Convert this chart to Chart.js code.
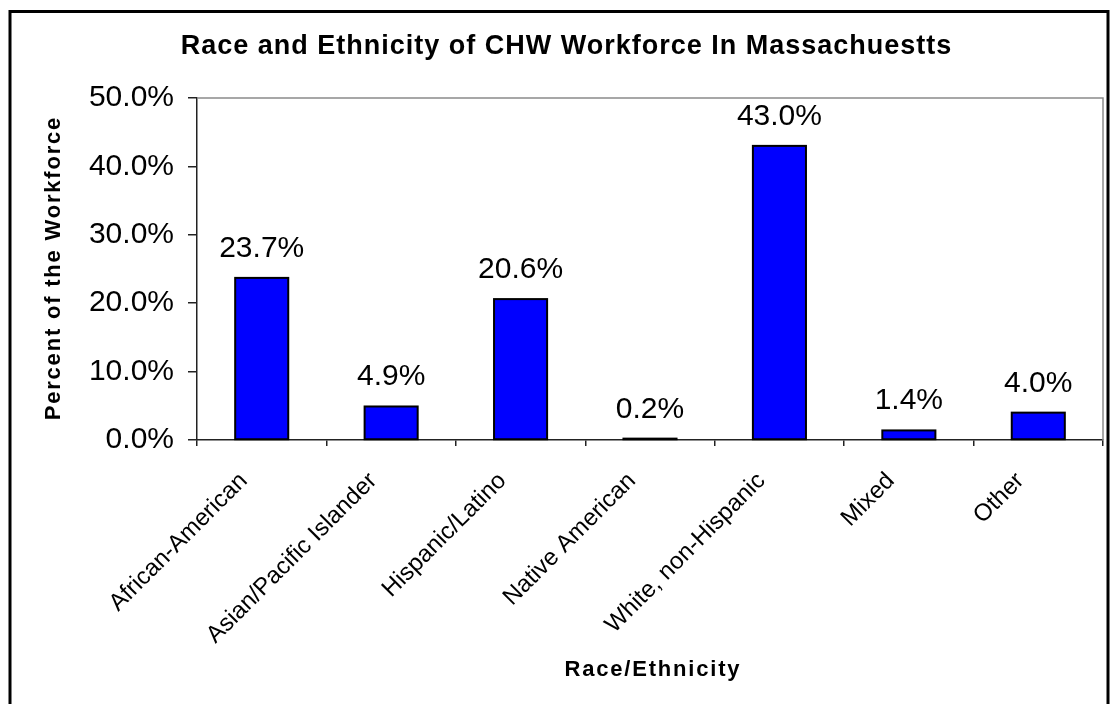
<!DOCTYPE html>
<html>
<head>
<meta charset="utf-8">
<title>Race and Ethnicity of CHW Workforce</title>
<script src="https://cdn.jsdelivr.net/npm/chart.js@4/dist/chart.umd.min.js"></script>
<style>
  html, body { margin: 0; padding: 0; background: #fff; }
  #wrap { width: 1111px; height: 704px; }
</style>
</head>
<body>
<div id="wrap"><canvas id="chart" width="1111" height="704"></canvas></div>
<script>
// ---------- Data ----------
const categories = [
  "African-American",
  "Asian/Pacific Islander",
  "Hispanic/Latino",
  "Native American",
  "White, non-Hispanic",
  "Mixed",
  "Other",
];
const percents = [23.7, 4.9, 20.6, 0.2, 43.0, 1.4, 4.0];
const yMin = 0;
const yMax = 50;
const yStep = 10;

const chartTitle = "Race and Ethnicity of CHW Workforce In Massachuestts";
const xTitle = "Race/Ethnicity";
const yTitle = "Percent of the Workforce";

// ---------- Helpers ----------
const FONT = "'Liberation Sans', Arial, Helvetica, sans-serif";
const pct = (v) => Number(v).toFixed(1) + "%";

function spacedText(ctx, text, x, y, font, spacing, rot = 0) {
  ctx.save();
  ctx.translate(x, y);
  ctx.rotate(rot);
  ctx.font = font;
  ctx.fillStyle = "#000";
  ctx.textAlign = "center";
  ctx.textBaseline = "middle";
  ctx.letterSpacing = spacing + "px";
  ctx.fillText(text, spacing / 2, 0);
  ctx.restore();
}

// ---------- Plugins ----------
// white page + heavy frame round the whole chart
const framePlugin = {
  id: "frame",
  beforeDraw(chart) {
    const { ctx, width, height } = chart;
    ctx.save();
    ctx.fillStyle = "#fff";
    ctx.fillRect(0, 0, width, height);
    ctx.strokeStyle = "#000";
    ctx.lineWidth = 3;
    ctx.strokeRect(10, 11.5, 1098, height + 40);
    ctx.restore();
  },
};

// grey top/right edges of the plot area
const plotEdgePlugin = {
  id: "plotEdge",
  beforeDatasetsDraw(chart) {
    const { ctx, chartArea: a } = chart;
    ctx.save();
    ctx.strokeStyle = "#8a8a8a";
    ctx.lineWidth = 1.5;
    ctx.beginPath();
    ctx.moveTo(a.left, a.top);
    ctx.lineTo(a.right, a.top);
    ctx.lineTo(a.right, a.bottom);
    ctx.stroke();
    ctx.restore();
  },
};

// black outline centred on each bar edge (keeps tiny bars visible),
// then the value label above it
const barDecorPlugin = {
  id: "barDecor",
  afterDatasetsDraw(chart) {
    const { ctx } = chart;
    const meta = chart.getDatasetMeta(0);
    ctx.save();
    ctx.strokeStyle = "#000";
    ctx.lineWidth = 2;
    meta.data.forEach((bar) => {
      const x0 = bar.x - bar.width / 2;
      ctx.strokeRect(x0, bar.y, bar.width, bar.base - bar.y);
    });
    ctx.font = "30px " + FONT;
    ctx.fillStyle = "#000";
    ctx.textAlign = "center";
    ctx.textBaseline = "alphabetic";
    meta.data.forEach((bar, i) => {
      ctx.fillText(pct(percents[i]), bar.x, bar.y - 21);
    });
    ctx.restore();
  },
};

// chart title and axis titles
const titlesPlugin = {
  id: "titles",
  afterDraw(chart) {
    const { ctx, chartArea: a } = chart;
    spacedText(ctx, chartTitle, 566, 47, "bold 27px " + FONT, 1.0);
    spacedText(ctx, xTitle, (a.left + a.right) / 2 + 2, 670, "bold 22px " + FONT, 1.8);
    spacedText(ctx, yTitle, 54, (a.top + a.bottom) / 2, "bold 22px " + FONT, 1.8, -Math.PI / 2);
  },
};

// ---------- Chart ----------
new Chart(document.getElementById("chart"), {
  type: "bar",
  data: {
    labels: categories,
    datasets: [
      {
        label: yTitle,
        data: percents,
        backgroundColor: "#0000ff",
        borderWidth: 0,
        barPercentage: 0.41,
        categoryPercentage: 1,
      },
    ],
  },
  options: {
    responsive: false,
    animation: false,
    devicePixelRatio: 1,
    layout: { padding: { top: 98, left: 0, right: 8, bottom: 0 } },
    plugins: {
      legend: { display: false },
      title: { display: false },
      tooltip: { enabled: false },
    },
    scales: {
      x: {
        grid: {
          display: true,
          drawOnChartArea: false,
          drawTicks: true,
          tickLength: 6,
          color: "#222",
          lineWidth: 1.5,
        },
        border: { color: "#222", width: 1.5 },
        ticks: {
          color: "#000",
          font: { family: FONT, size: 24 },
          minRotation: 45,
          maxRotation: 45,
          padding: 21,
          labelOffset: -18,
          autoSkip: false,
        },
        afterFit(scale) { scale.height = 264; },
      },
      y: {
        min: yMin,
        max: yMax,
        grid: {
          display: true,
          drawOnChartArea: false,
          drawTicks: true,
          tickLength: 9,
          color: "#222",
          lineWidth: 1.5,
        },
        border: { color: "#222", width: 1.5 },
        ticks: {
          stepSize: yStep,
          color: "#000",
          font: { family: FONT, size: 30 },
          padding: 14,
          callback: (v) => pct(v),
        },
        afterFit(scale) { scale.width = 197; },
      },
    },
  },
  plugins: [framePlugin, plotEdgePlugin, barDecorPlugin, titlesPlugin],
});
</script>
</body>
</html>
